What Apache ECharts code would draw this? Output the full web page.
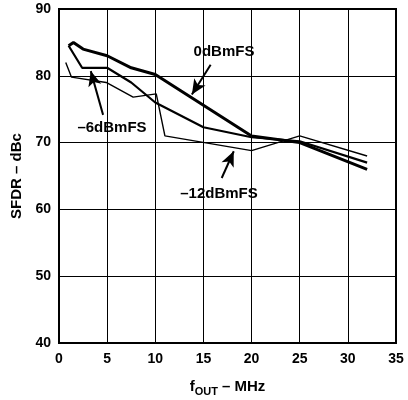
<!DOCTYPE html>
<html><head><meta charset="utf-8">
<script src="https://cdn.jsdelivr.net/npm/echarts@6/dist/echarts.min.js"></script>
<style>html,body{margin:0;padding:0;background:#fff}#c{width:408px;height:400px}</style>
</head><body><div id="c"></div>
<script>
const xTicks = [0,5,10,15,20,25,30,35];
const yTicks = [40,50,60,70,80,90];
const s0dB = [[1,84.5],[1.5,85],[2.5,84],[5,83],[7.5,81.2],[10,80.2],[20,71],[25,70],[32,66]];
const s6dB = [[1,84.5],[2.4,81.2],[5,81.2],[7.5,79],[10,76],[15,72.3],[20,70.8],[25,70.2],[32,67]];
const s12dB = [[0.7,82],[1.3,79.8],[4.9,79],[7.7,76.8],[10.1,77.3],[11,71],[20,68.8],[25,71],[32,68]];
const labels = ['0dBmFS','\u20136dBmFS','\u201312dBmFS'];

const chart = echarts.init(document.getElementById('c'));
const F = 'Liberation Sans, Arial, sans-serif';
const arrowLine = (a,b) => ({
  silent:true, symbol:['none','arrow'], symbolSize:[10,15],
  lineStyle:{color:'#000',width:2,type:'solid'}, label:{show:false},
  data:[[{coord:a},{coord:b}]]
});
chart.setOption({
  animation:false,
  grid:{left:59,right:12,top:9,bottom:57,show:true,borderColor:'#000',borderWidth:2,
    containLabel:false,outerBoundsMode:'none'},
  xAxis:{type:'value',min:0,max:35,interval:5,
    axisLine:{show:true,lineStyle:{color:'#000',width:2}},axisTick:{show:false},
    splitLine:{show:true,lineStyle:{color:'#000',width:1}},
    axisLabel:{color:'#000',fontWeight:'bold',fontSize:14,fontFamily:F,margin:9},
    name:'{a|f}{s|OUT}{a| \u2013 MHz}',nameLocation:'middle',nameGap:34,
    nameTextStyle:{rich:{a:{fontWeight:'bold',fontSize:15,fontFamily:F,color:'#000'},
      s:{fontWeight:'bold',fontSize:11,fontFamily:F,color:'#000',padding:[9,0,0,0]}}}},
  yAxis:{type:'value',min:40,max:90,interval:10,
    axisLine:{show:true,lineStyle:{color:'#000',width:2}},axisTick:{show:false},
    splitLine:{show:true,lineStyle:{color:'#000',width:1}},
    axisLabel:{color:'#000',fontWeight:'bold',fontSize:14,fontFamily:F,margin:8},
    name:'SFDR \u2013 dBc',nameLocation:'middle',nameGap:34,
    nameTextStyle:{color:'#000',fontWeight:'bold',fontSize:15,fontFamily:F}},
  series:[
    {type:'line',data:s0dB,symbol:'none',lineStyle:{color:'#000',width:3},
      markLine:arrowLine([15.75,81.65],[13.8,77.2])},
    {type:'line',data:s6dB,symbol:'none',lineStyle:{color:'#000',width:2.2},
      markLine:arrowLine([4.58,74.15],[3.3,80.7])},
    {type:'line',data:s12dB,symbol:'none',lineStyle:{color:'#000',width:1.4},
      markLine:arrowLine([16.9,64.7],[18.15,68.7])}
  ],
  graphic:[
    {type:'text',x:224,y:52,style:{text:labels[0],fill:'#000',font:'bold 15px '+F,textAlign:'center',textVerticalAlign:'middle'}},
    {type:'text',x:112,y:128,style:{text:labels[1],fill:'#000',font:'bold 15px '+F,textAlign:'center',textVerticalAlign:'middle'}},
    {type:'text',x:219,y:194,style:{text:labels[2],fill:'#000',font:'bold 15px '+F,textAlign:'center',textVerticalAlign:'middle'}}
  ]
});
</script></body></html>
